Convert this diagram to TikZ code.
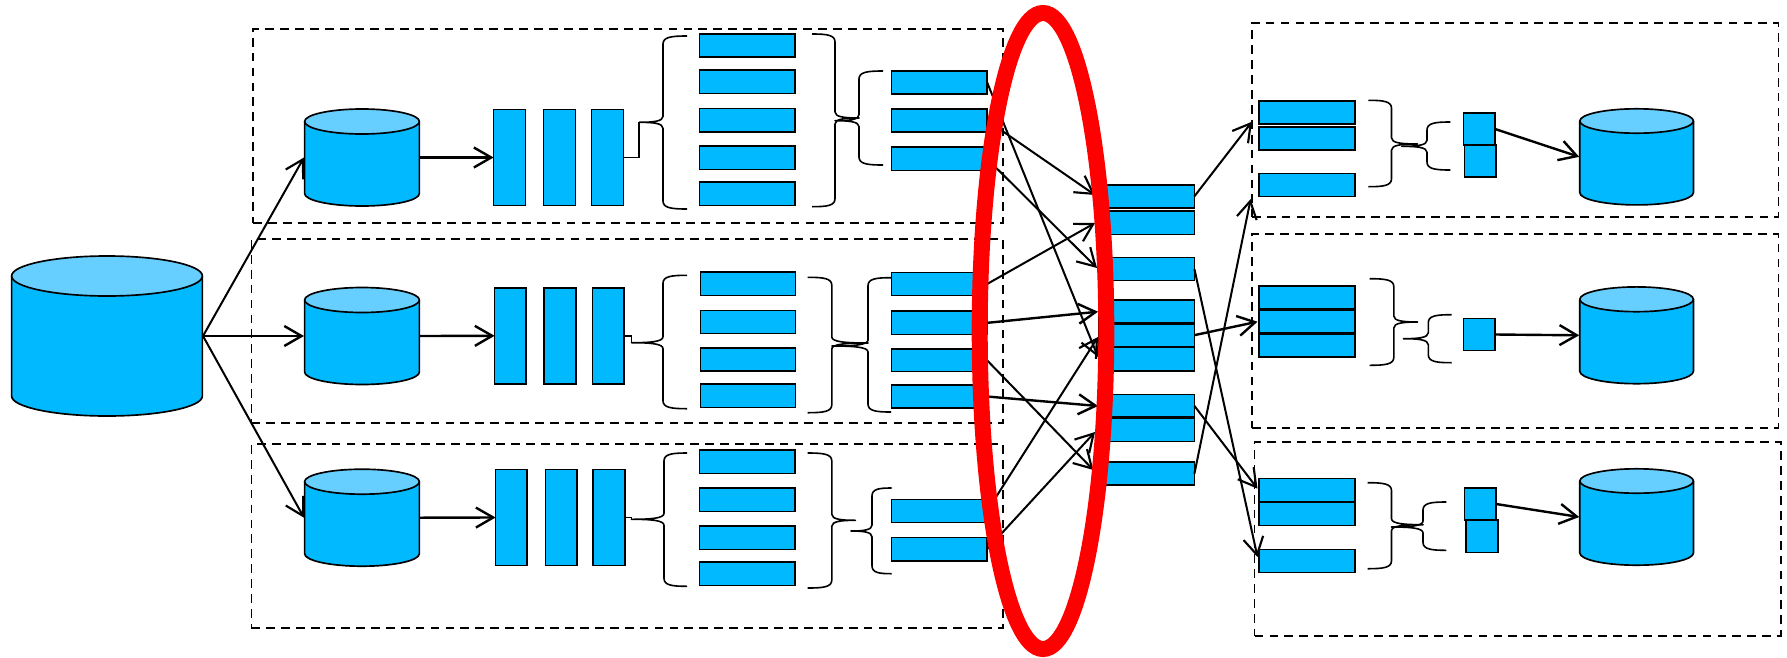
\documentclass[tikz,border=0pt]{standalone}
\usetikzlibrary{arrows.meta}
\definecolor{bodyblue}{HTML}{00B9FF}
\definecolor{lidblue}{HTML}{66CFFF}
\tikzset{
  bx/.style={draw=black,fill=bodyblue,line width=1.25pt,rectangle,inner sep=0pt,outer sep=0pt},
  anchorbox/.style={rectangle,inner sep=0pt,outer sep=0pt},
  cylline/.style={draw=black,line width=1.25pt,line join=round},
  dbox/.style={draw=black,line width=1.25pt,dash pattern=on 6.6pt off 4.6pt},
  brc/.style={draw=black,line width=1.2pt,line join=round},
  wire/.style={draw=black,line width=1.4pt},
  arr/.style={draw=black,line width=1.8pt,-{Straight Barb[length=13pt,width=15pt,line width=1.8pt]}},
  arrthin/.style={draw=black,line width=1.5pt,-{Straight Barb[length=13pt,width=15pt,line width=1.6pt]}},
}
\newcommand{\rbox}[5]{\pgfmathsetmacro\rw{(#4-#2-1.2)*0.75}\pgfmathsetmacro\rh{(#5-#3-1.2)*0.75}%
  \node[bx,minimum width=\rw pt,minimum height=\rh pt] (#1) at ({(#2+#4)/2},{(#3+#5)/2}) {};}
\newcommand{\dframe}[5]{\pgfmathsetmacro\rw{(#4-#2)*0.75}\pgfmathsetmacro\rh{(#5-#3)*0.75}%
  \node[dbox,rectangle,inner sep=0pt,outer sep=0pt,minimum width=\rw pt,minimum height=\rh pt] (#1) at ({(#2+#4)/2},{(#3+#5)/2}) {};}
% name, cx, y of lid centre, y of base centre, rx, ry
\newcommand{\cyl}[6]{%
  \path[cylline,fill=bodyblue] ({#2-#5+0.6},#3) -- ({#2-#5+0.6},#4) arc (180:0:{#5-0.6} and #6) -- ({#2+#5-0.6},#3) -- cycle;
  \path[cylline,fill=lidblue] (#2,#3) ellipse ({#5-0.6} and #6);
  \pgfmathsetmacro\rw{2*#5*0.75}\pgfmathsetmacro\rh{(#4-#3+2*#6)*0.75}%
  \node[anchorbox,minimum width=\rw pt,minimum height=\rh pt] (#1) at (#2,{(#3+#4)/2}) {};}
% xend, xvertical, xtip, ytop, ymid, ybottom
\newcommand{\cbrace}[6]{%
  \path[brc] (#1,#4) .. controls ({#2+0.35*(#1-#2)},#4) and (#2,{#4+1}) .. (#2,{#4+8})
    -- (#2,{#5-6}) .. controls (#2,{#5-1}) and ({#2+0.4*(#3-#2)},#5) .. (#3,#5)
    .. controls ({#2+0.4*(#3-#2)},#5) and (#2,{#5+1}) .. (#2,{#5+6})
    -- (#2,{#6-8}) .. controls (#2,{#6-1}) and ({#2+0.35*(#1-#2)},#6) .. (#1,#6);}
\begin{document}
\begin{tikzpicture}[x=0.75pt,y=-0.75pt]
\useasboundingbox (0,0) rectangle (1787,657);
% dashed frames
\dframe{fL1}{253}{29}{1003}{222.7}
\dframe{fL2}{251.4}{239.3}{1003}{423}
\dframe{fL3}{251.4}{444.3}{1003}{628}
\dframe{fR1}{1251.8}{23}{1778.4}{217}
\dframe{fR2}{1251.8}{234.3}{1778.4}{427.7}
\dframe{fR3}{1254.6}{441.7}{1780.7}{635.7}
% cylinders
\cyl{big}{107}{276}{396}{96}{20}
\cyl{c1}{362}{121.5}{193.5}{58}{12.5}
\cyl{c2}{362}{300}{372}{58}{12.5}
\cyl{c3}{362}{481.7}{553.7}{58}{12.5}
\cyl{d1}{1636.6}{121}{192.7}{57.4}{12.2}
\cyl{d2}{1636.6}{299.3}{371.3}{57.4}{12.4}
\cyl{d3}{1636.6}{481}{553}{57.4}{12.2}
% bars
\rbox{b11}{493}{109}{526}{206}\rbox{b12}{543}{109}{576}{206}\rbox{b13}{591}{109}{624}{206}
\rbox{b21}{494}{287.3}{526.5}{384.3}\rbox{b22}{543.6}{287.3}{576.3}{384.3}\rbox{b23}{592}{287.3}{624.6}{384.3}
\rbox{b31}{495}{469}{527.6}{566}\rbox{b32}{545}{469}{577.5}{566}\rbox{b33}{592.4}{469}{625.7}{566}
% column A
\rbox{a11}{699}{33.3}{795.6}{57.7}\rbox{a12}{699}{69.7}{795.6}{94}\rbox{a13}{699}{108}{795.6}{132.3}\rbox{a14}{699}{145.7}{795.6}{170}\rbox{a15}{699}{181.7}{795.6}{206}
\rbox{a21}{699.8}{271.7}{796}{296}\rbox{a22}{699.8}{310}{796}{334}\rbox{a23}{699.8}{347.7}{796}{371.7}\rbox{a24}{699.8}{383.7}{796}{408}
\rbox{a31}{699}{449.7}{795.6}{474}\rbox{a32}{699}{487.7}{795.6}{512}\rbox{a33}{699}{525.7}{795.6}{550}\rbox{a34}{699}{561.7}{795.6}{586}
% column B
\rbox{m11}{891}{70.3}{987.7}{94.3}\rbox{m12}{891}{108.3}{987.7}{132.7}\rbox{m13}{891}{146.7}{987.7}{171}
\rbox{m21}{891}{272}{987.7}{296}\rbox{m22}{891}{310.7}{987.7}{335}\rbox{m23}{891}{348.7}{987.7}{372}\rbox{m24}{891}{384.3}{987.7}{408.7}
\rbox{m31}{891}{499}{987.7}{523}\rbox{m32}{891}{537}{987.7}{561.3}
% column C
\rbox{s1}{1098}{184.3}{1195}{208.3}\rbox{s2}{1098}{210.7}{1195}{235}\rbox{s3}{1098}{257}{1195}{281}
\rbox{s4}{1098}{299.7}{1195}{323.3}\rbox{s5}{1098}{323.3}{1195}{347}\rbox{s6}{1098}{347}{1195}{371.3}
\rbox{s7}{1098}{394}{1195}{417.7}\rbox{s8}{1098}{417.7}{1195}{442}\rbox{s9}{1098}{461.7}{1195}{485.7}
% column D
\rbox{r11}{1258.6}{100.7}{1355.3}{124.7}\rbox{r12}{1258.6}{126.3}{1355.3}{150.7}\rbox{r13}{1258.6}{173}{1355.3}{197}
\rbox{r21}{1258.6}{285.3}{1355.3}{309.3}\rbox{r22}{1258.6}{309.3}{1355.3}{333.7}\rbox{r23}{1258.6}{333.7}{1355.3}{357.7}
\rbox{r31}{1258.6}{478}{1355.3}{502}\rbox{r32}{1258.6}{502}{1355.3}{526}\rbox{r33}{1258.6}{549}{1355.3}{573}
% small squares
\rbox{q11}{1462.8}{112.7}{1495.6}{145.3}\rbox{q12}{1464}{144.7}{1496.7}{177.7}
\rbox{q21}{1462.8}{318}{1495.6}{351}
\rbox{q31}{1464}{487.7}{1496.7}{520.3}\rbox{q32}{1465.6}{519.7}{1498.4}{553}
% braces
\cbrace{687}{663}{639}{36}{122.3}{209}
\cbrace{812}{835}{859}{34}{118}{206.7}
\cbrace{883}{859}{835}{71}{120.7}{165}
\cbrace{687}{663}{631.5}{275.3}{342.7}{408.7}
\cbrace{807.7}{831.8}{868}{277.3}{343}{412.7}
\cbrace{891}{868}{831.8}{277.7}{346}{412}
\cbrace{687}{664}{631.5}{453}{519.3}{586.3}
\cbrace{807.7}{831.8}{855.4}{453}{520.3}{588}
\cbrace{891.5}{872}{851}{488}{531}{573.7}
\cbrace{1368.3}{1391.5}{1417.5}{100.3}{144}{186.7}
\cbrace{1450.3}{1427}{1401.7}{122}{146.3}{170}
\cbrace{1369.5}{1393.8}{1417.5}{278.7}{322}{365.3}
\cbrace{1451.5}{1428.3}{1403.4}{314.7}{338.7}{362.7}
\cbrace{1367.7}{1391.5}{1423}{482.7}{524.7}{568.7}
\cbrace{1446.4}{1423}{1391.5}{502}{527}{550.3}
% brace tips
\coordinate (t1) at (639,122.3);
\coordinate (t2) at (631.5,342.7);
\coordinate (t3) at (631.5,519.3);
\draw[wire] (b13.east) -| (t1);
\draw[wire] (b23.east) -| (t2);
\draw[wire] (b33.east) -| (t3);
% arrows left
\draw[arr] (big.east) -- (c2.west);
\draw[arrthin] (big.east) -- (c1.west);
\draw[arrthin] (big.east) -- (c3.west);
\draw[arr] (c1.east) -- (b11.west);
\draw[arr] (c2.east) -- (b21.west);
\draw[arr] (c3.east) -- (b31.west);
% arrow targets
\coordinate (i1) at (1098,357);
\coordinate (i2) at (1095,195);
\coordinate (i3) at (1097,268);
\coordinate (i4) at (1095,223);
\coordinate (i5) at (1098,311.7);
\coordinate (i6) at (1093.4,470);
\coordinate (i7) at (1098,406);
\coordinate (i8) at (1098,337);
\coordinate (i9) at (1095,432);
\coordinate (o1) at (1252,121.7);
\coordinate (o2) at (1250.7,199);
\coordinate (o3) at (1257.5,557);
\coordinate (o4) at (1257.5,321.7);
\coordinate (o5) at (1257.5,488.7);
\draw[arrthin] (m11.east) -- (i1);
\draw[arrthin] (m12.east) -- (i2);
\draw[arrthin] (m13.east) -- (i3);
\draw[arrthin] (m21.east) -- (i4);
\draw[arr] (m22.east) -- (i5);
\draw[arrthin] (m23.east) -- (i6);
\draw[arr] (m24.east) -- (i7);
\draw[arrthin] (m31.east) -- (i8);
\draw[arrthin] (m32.east) -- (i9);
\draw[arrthin] (s1.east) -- (o1);
\draw[arrthin] (s9.east) -- (o2);
\draw[arrthin] (s3.east) -- (o3);
\draw[arr] (s5.east) -- (o4);
\draw[arrthin] (s7.east) -- (o5);
\draw[arr] (q11.east) -- (d1.west);
\draw[arr] (q21.east) -- (d2.west);
\draw[arr] (q31.east) -- (d3.west);
% red ellipse
\draw[red,line width=12pt] (1043,331) ellipse (63.3 and 318);
\end{tikzpicture}
\end{document}
